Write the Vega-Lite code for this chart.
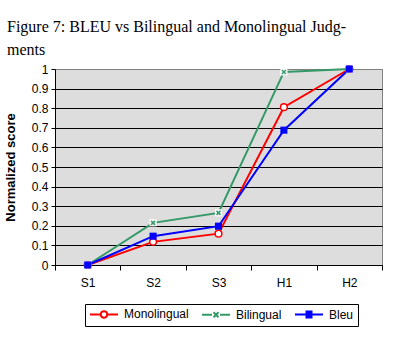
{
  "$schema": "https://vega.github.io/schema/vega-lite/v6.json",
  "width": 327,
  "height": 196,
  "autosize": {"type": "none"},
  "padding": {"left": 55, "top": 69, "right": 13, "bottom": 76},
  "background": "white",
  "title": {
    "text": ["Figure 7: BLEU vs Bilingual and Monolingual Judg-", "ments"],
    "anchor": "start",
    "frame": "group",
    "dx": -48,
    "dy": 3,
    "offset": 8,
    "font": "Liberation Serif",
    "fontSize": 16,
    "fontWeight": "normal",
    "color": "black",
    "lineHeight": 23
  },
  "config": {
    "view": {"fill": "#DDDDDD", "stroke": "#808080", "strokeWidth": 1},
    "axis": {
      "labelFont": "Liberation Sans",
      "labelFontSize": 12,
      "labelColor": "black",
      "titleFont": "Liberation Sans",
      "titleColor": "black",
      "domainColor": "black",
      "tickColor": "black"
    }
  },
  "data": {
    "values": [
      {"cat": "S1", "series": "Monolingual", "value": 0},
      {"cat": "S2", "series": "Monolingual", "value": 0.118},
      {"cat": "S3", "series": "Monolingual", "value": 0.16},
      {"cat": "H1", "series": "Monolingual", "value": 0.805},
      {"cat": "H2", "series": "Monolingual", "value": 1},
      {"cat": "S1", "series": "Bilingual", "value": 0},
      {"cat": "S2", "series": "Bilingual", "value": 0.215},
      {"cat": "S3", "series": "Bilingual", "value": 0.266},
      {"cat": "H1", "series": "Bilingual", "value": 0.985},
      {"cat": "H2", "series": "Bilingual", "value": 1},
      {"cat": "S1", "series": "Bleu", "value": 0},
      {"cat": "S2", "series": "Bleu", "value": 0.147},
      {"cat": "S3", "series": "Bleu", "value": 0.198},
      {"cat": "H1", "series": "Bleu", "value": 0.688},
      {"cat": "H2", "series": "Bleu", "value": 1}
    ]
  },
  "encoding": {
    "x": {
      "field": "cat",
      "type": "nominal",
      "sort": ["S1", "S2", "S3", "H1", "H2"],
      "scale": {"type": "band", "paddingInner": 0, "paddingOuter": 0},
      "axis": {
        "title": null,
        "labelAngle": 0,
        "tickBand": "extent",
        "tickSize": 5,
        "labelPadding": 7,
        "grid": false
      }
    },
    "y": {
      "field": "value",
      "type": "quantitative",
      "scale": {"domain": [0, 1], "nice": false},
      "axis": {
        "title": "Normalized score",
        "titleFontSize": 13,
        "titleFontWeight": "bold",
        "titleX": -38,
        "values": [0, 0.1, 0.2, 0.3, 0.4, 0.5, 0.6, 0.7, 0.8, 0.9, 1],
        "format": "~g",
        "tickSize": 4,
        "labelPadding": 3,
        "grid": true,
        "gridColor": {"condition": {"test": "datum.value == 1", "value": "#808080"}, "value": "black"},
        "gridWidth": 1
      }
    }
  },
  "layer": [
    {
      "transform": [{"filter": "datum.series == 'Bilingual'"}],
      "mark": {"type": "line", "strokeWidth": 2, "stroke": "#339966"}
    },
    {
      "transform": [{"filter": "datum.series == 'Monolingual'"}],
      "mark": {"type": "line", "strokeWidth": 2, "stroke": "#FF0000"}
    },
    {
      "transform": [{"filter": "datum.series == 'Bleu'"}],
      "mark": {"type": "line", "strokeWidth": 2, "stroke": "#0000FF"}
    },
    {
      "transform": [{"filter": "datum.series == 'Monolingual'"}],
      "mark": {"type": "point", "shape": "circle", "filled": true, "fill": "white", "stroke": "#FF0000", "strokeWidth": 1.5, "size": 45, "opacity": 1}
    },
    {
      "transform": [{"filter": "datum.series == 'Bilingual'"}],
      "mark": {"type": "point", "shape": "square", "filled": true, "fill": "white", "size": 50, "opacity": 1}
    },
    {
      "transform": [{"filter": "datum.series == 'Bilingual'"}],
      "mark": {"type": "point", "shape": "M-0.6,-0.6L0.6,0.6M-0.6,0.6L0.6,-0.6", "filled": false, "stroke": "#339966", "strokeWidth": 1.5, "size": 45, "opacity": 1}
    },
    {
      "transform": [{"filter": "datum.series == 'Bleu'"}],
      "mark": {"type": "point", "shape": "square", "filled": true, "fill": "#0000FF", "size": 50, "opacity": 1}
    },
    {
      "mark": {"type": "point", "opacity": 0, "size": 100, "strokeWidth": 2, "filled": true},
      "encoding": {
        "shape": {
          "field": "series",
          "type": "nominal",
          "scale": {"domain": ["Monolingual", "Bilingual", "Bleu"], "range": [
            "M-2.8,0H-0.65M0.65,0H2.8M-0.65,0A0.65,0.65 0 1,1 0.65,0A0.65,0.65 0 1,1 -0.65,0",
            "M-2.8,0H-0.8M0.8,0H2.8M-0.5,-0.5L0.5,0.5M-0.5,0.5L0.5,-0.5",
            "M-2.8,0H2.8M-0.7,-0.6H0.7M-0.7,-0.2H0.7M-0.7,0.2H0.7M-0.7,0.6H0.7"
          ]}
        },
        "stroke": {
          "field": "series",
          "type": "nominal",
          "scale": {"domain": ["Monolingual", "Bilingual", "Bleu"], "range": ["#FF0000", "#339966", "#0000FF"]}
        },
        "fill": {
          "field": "series",
          "type": "nominal",
          "scale": {"domain": ["Monolingual", "Bilingual", "Bleu"], "range": ["white", "#339966", "#0000FF"]},
          "legend": {
            "title": null,
            "orient": "none",
            "direction": "horizontal",
            "legendX": 30,
            "legendY": 235,
            "strokeColor": "black",
            "padding": 4,
            "symbolSize": 100,
            "symbolOffset": 9,
            "symbolOpacity": 1,
            "symbolStrokeWidth": 2,
            "labelFont": "Liberation Sans",
            "labelFontSize": 12,
            "labelColor": "black",
            "labelOffset": 14,
            "columnPadding": 9
          }
        }
      }
    }
  ]
}
